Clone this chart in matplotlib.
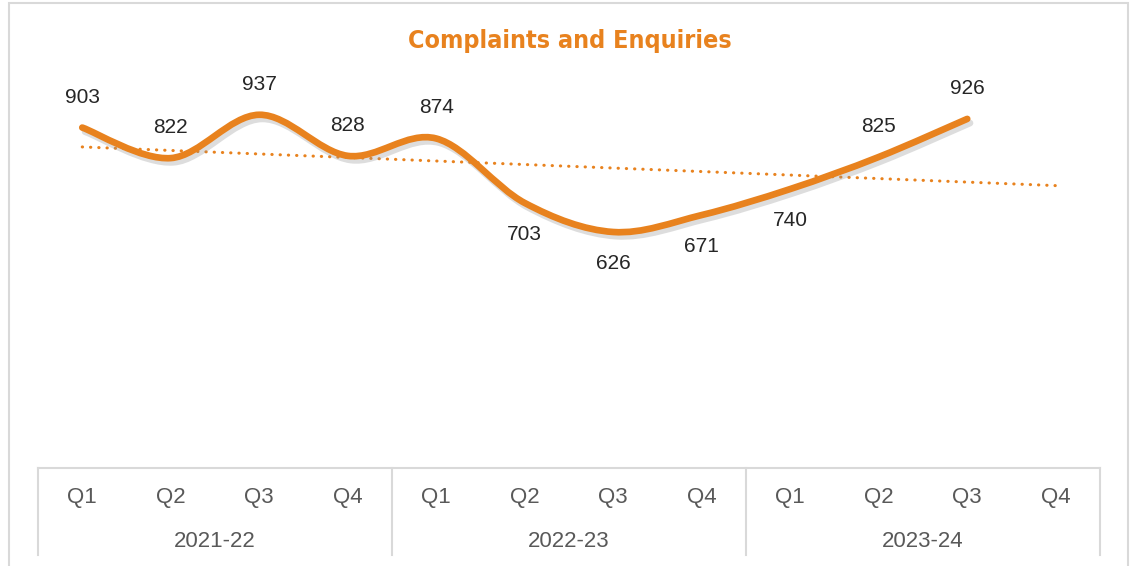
import matplotlib.pyplot as plt
import matplotlib.patheffects as pe
from matplotlib.path import Path
from matplotlib.patches import PathPatch, Rectangle
import numpy as np

# Data
quarters = ['Q1', 'Q2', 'Q3', 'Q4'] * 3
years = ['2021-22', '2022-23', '2023-24']
values = [903, 822, 937, 828, 874, 703, 626, 671, 740, 825, 926]
label_below = [False, False, False, False, False, True, True, True, True, False, False]

orange = '#E8821E'
grey_line = '#D9D9D9'
text_grey = '#595959'

plt.rcParams['font.family'] = ['Liberation Sans', 'DejaVu Sans']

W, H = 1134, 566
fig = plt.figure(figsize=(W / 100, H / 100), dpi=100)
ax = fig.add_axes([38 / W, 1 - 468 / H, (1100 - 38) / W, (468 - 91) / H])

x = np.arange(len(values))
y = np.array(values, dtype=float)

# smoothed line (Excel style bezier through the points)
verts = [(x[0], y[0])]
codes = [Path.MOVETO]
n = len(x)
for i in range(n - 1):
    p0 = np.array([x[max(i - 1, 0)], y[max(i - 1, 0)]])
    p1 = np.array([x[i], y[i]])
    p2 = np.array([x[i + 1], y[i + 1]])
    p3 = np.array([x[min(i + 2, n - 1)], y[min(i + 2, n - 1)]])
    c1 = p1 + (p2 - p0) / 6
    c2 = p2 - (p3 - p1) / 6
    verts += [tuple(c1), tuple(c2), tuple(p2)]
    codes += [Path.CURVE4] * 3
line = PathPatch(Path(verts, codes), facecolor='none', edgecolor=orange, lw=4.8,
                 capstyle='round', joinstyle='round', zorder=3)
line.set_path_effects([pe.SimpleLineShadow(offset=(2, -3), shadow_color='#909090', alpha=0.3),
                       pe.Normal()])
ax.add_patch(line)

# linear trendline, forecast one period forward
slope, icpt = np.polyfit(x, y, 1)
xt = np.array([0, len(quarters) - 1])
ax.plot(xt, slope * xt + icpt, color=orange, lw=2.2, ls=(0, (0.1, 2.6)),
        dash_capstyle='round', zorder=2)

# data labels
for xi, yi, below in zip(x, values, label_below):
    ax.annotate(str(yi), (xi, yi), xytext=(0, -22.5 if below else 22), textcoords='offset points',
                ha='center', va='center', fontsize=15, color='#262626')

ax.set_xlim(-0.5, len(quarters) - 0.5)
ax.set_ylim(0, 1000)
ax.axis('off')

# multi-level category axis drawn as a table
tr = ax.get_xaxis_transform()
ax.plot([-0.5, len(quarters) - 0.5], [0, 0], color=grey_line, lw=1.5, transform=tr, clip_on=False)
for b in [-0.5, 3.5, 7.5, 11.5]:
    ax.plot([b, b], [0, -0.231], color=grey_line, lw=1.5, transform=tr, clip_on=False)
for i, q in enumerate(quarters):
    ax.text(i, -0.077, q, transform=tr, ha='center', va='center', fontsize=16, color=text_grey)
for j, yr in enumerate(years):
    ax.text(4 * j + 1.5, -0.194, yr, transform=tr, ha='center', va='center', fontsize=16, color=text_grey)

# chart border
fig.add_artist(Rectangle((9 / W, -0.1), (1128 - 9) / W, 1.1 - 3 / H, transform=fig.transFigure,
                         facecolor='none', edgecolor=grey_line, lw=1.5))

fig.text(570 / W, 1 - 41 / H, 'Complaints and Enquiries', ha='center', va='center',
         fontsize=18, fontweight='heavy', fontstretch='condensed', color=orange,
         family=['DejaVu Sans'])

fig.savefig('out.png', dpi=100, facecolor='white')
